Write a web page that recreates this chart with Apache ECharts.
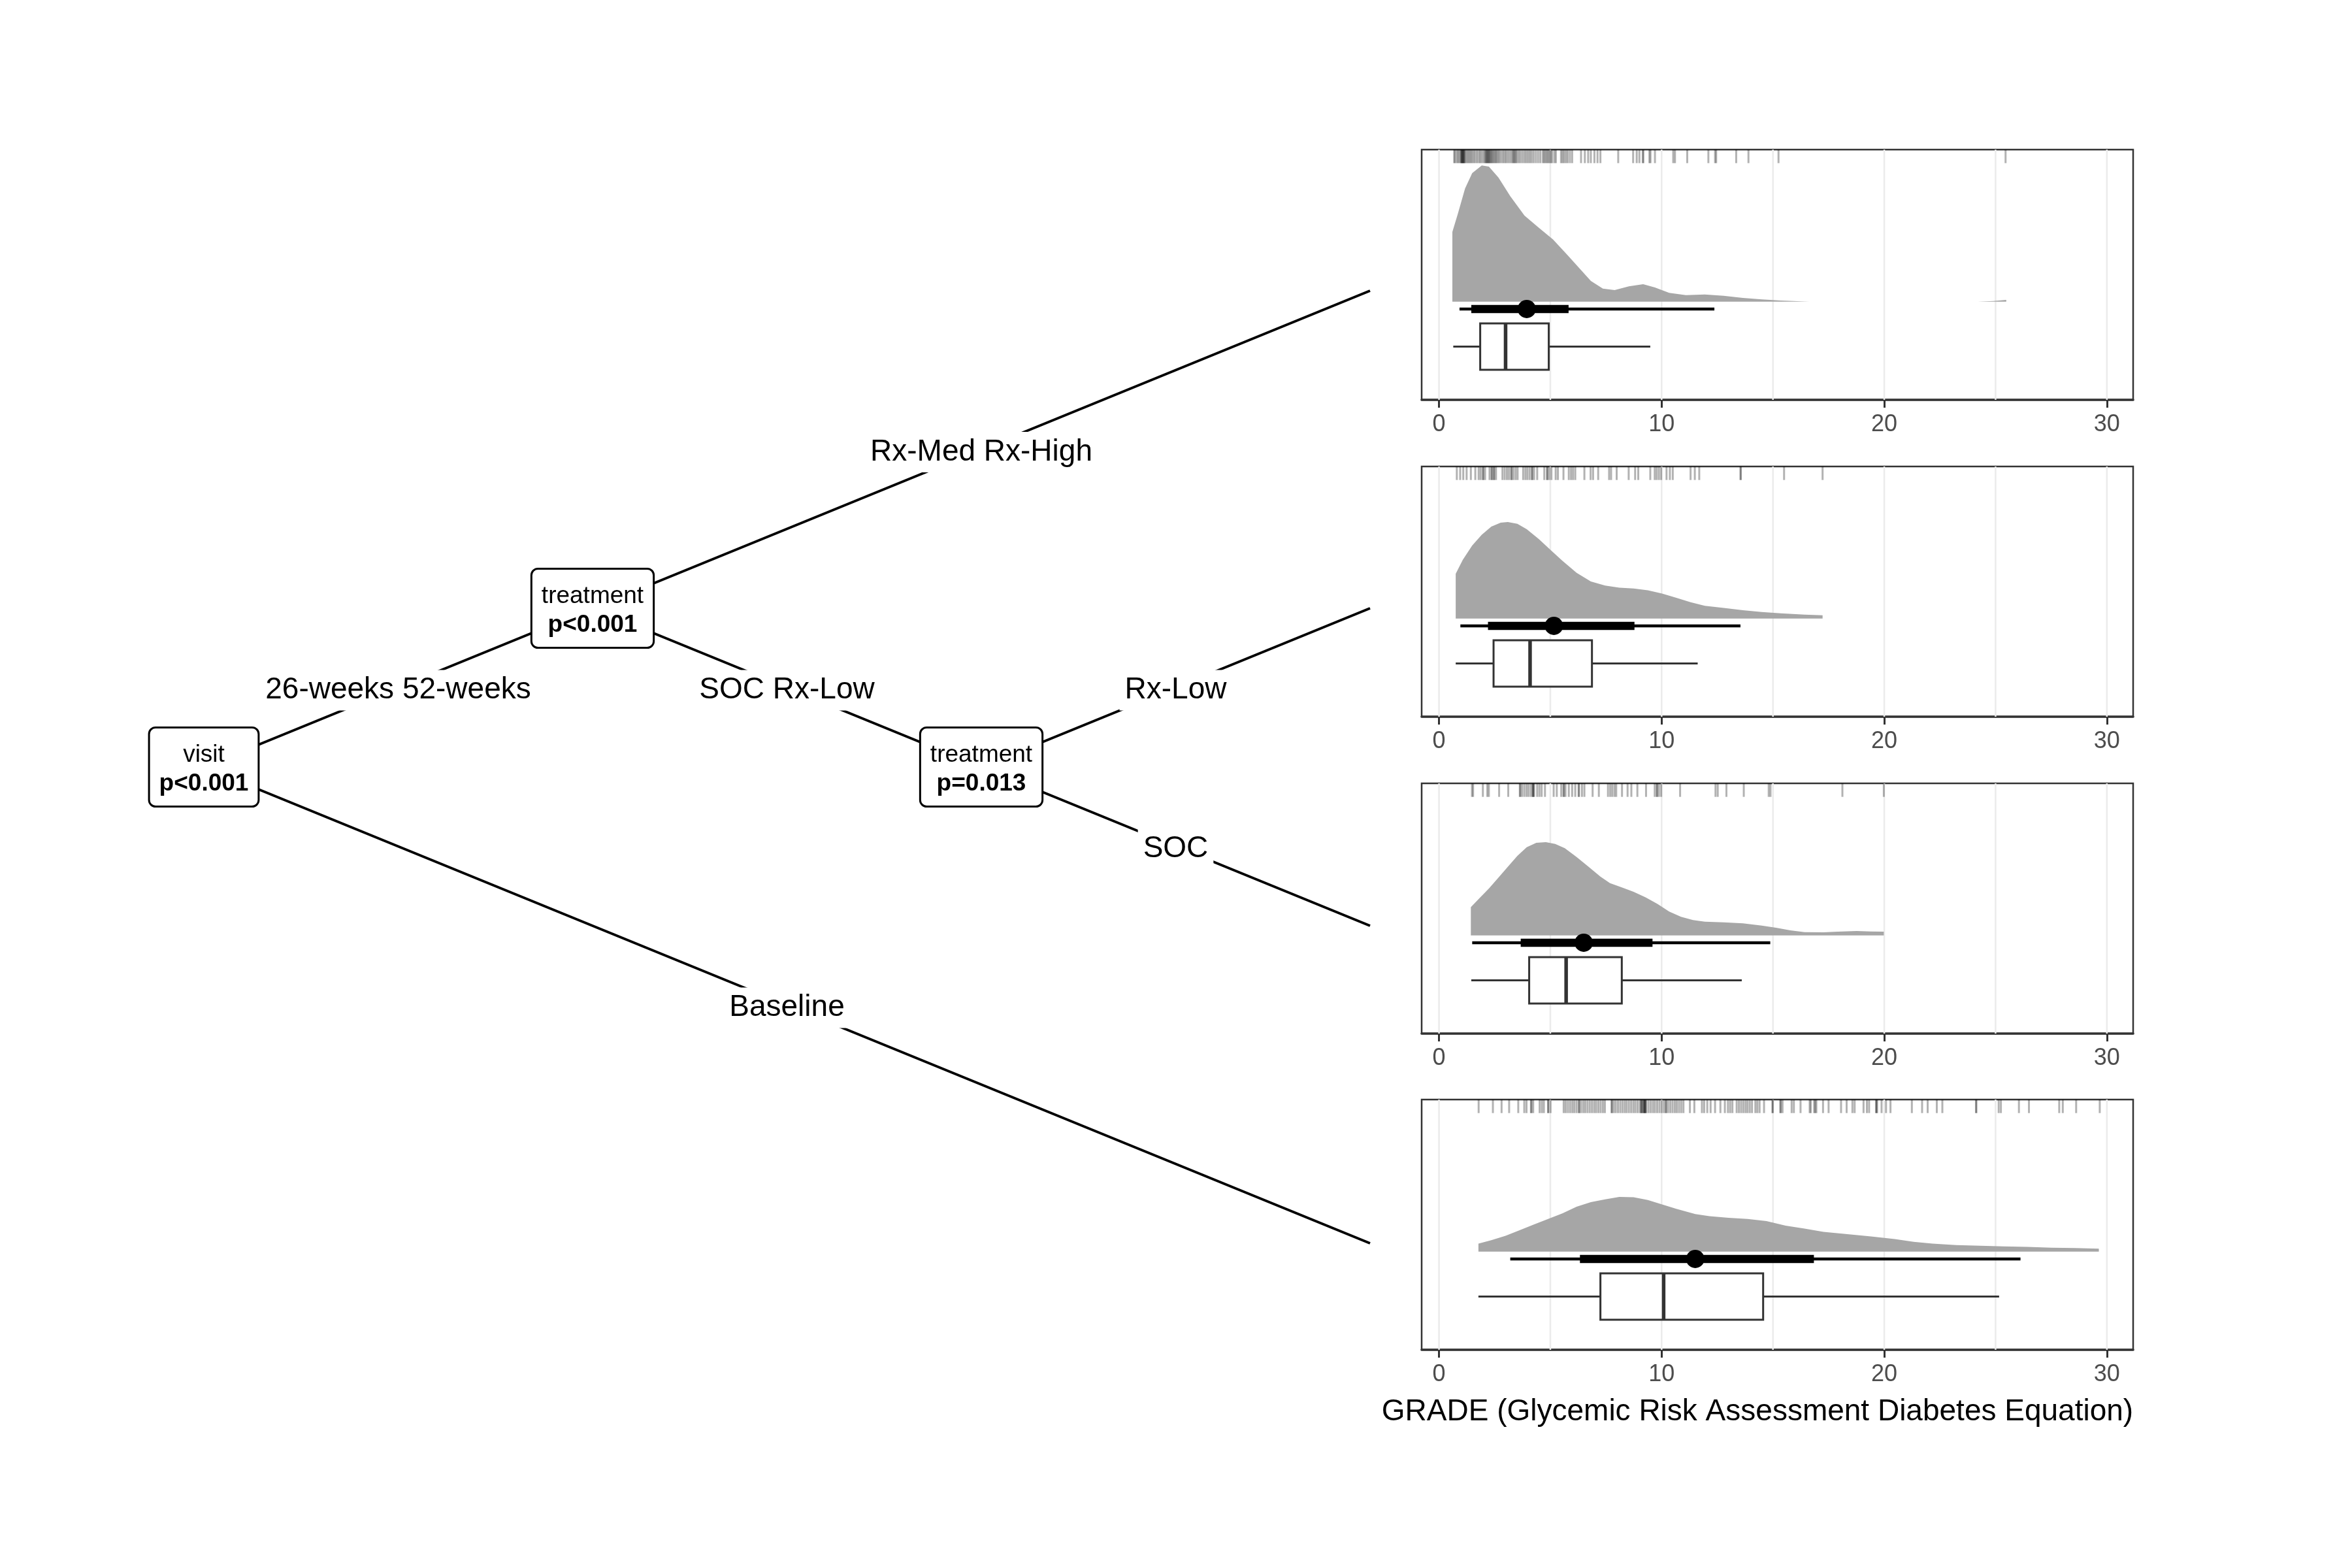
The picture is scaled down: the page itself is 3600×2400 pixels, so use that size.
<!DOCTYPE html>
<html>
<head>
<meta charset="utf-8">
<script src="https://cdn.jsdelivr.net/npm/echarts@6/dist/echarts.min.js"></script>
<style>
html,body{margin:0;padding:0;background:#ffffff;}
#chart{width:3600px;height:2400px;}
</style>
</head>
<body>
<div id="chart"></div>
<script>
// ================= DATA =================
// --- tree structure (partykit-style conditional inference tree) ---
const nodeIds = [1, 2, 4];
const nodeVariables = ['visit', 'treatment', 'treatment'];
const nodePValues = ['p<0.001', 'p<0.001', 'p=0.013'];
const edgeFrom = [1, 2, 2, 4, 4, 1];
const edgeTo = [2, 3, 4, 5, 6, 7];
const edgeLabels = ['26-weeks 52-weeks', 'Rx-Med Rx-High', 'SOC Rx-Low', 'Rx-Low', 'SOC', 'Baseline'];
const leafIds = [3, 5, 6, 7];

// --- terminal panels: GRADE axis ---
const axisTicks = [0, 10, 20, 30];
const gridBreaks = [0, 5, 10, 15, 20, 25, 30];
const axisTitle = 'GRADE (Glycemic Risk Assessment Diabetes Equation)';

// rug (individual observations) per terminal node
const rug3 = [0.68,0.72,0.80,0.86,0.92,0.98,1.00,1.02,1.04,1.06,1.08,1.10,1.12,1.14,1.18,1.24,1.30,1.36,1.42,1.48,1.55,1.62,1.70,1.78,1.85,1.92,2.00,2.06,2.10,2.13,2.16,2.19,2.22,2.25,2.28,2.32,2.36,2.40,2.45,2.50,2.55,2.60,2.66,2.72,2.80,2.88,2.95,3.02,3.10,3.18,3.26,3.32,3.36,3.40,3.45,3.50,3.58,3.66,3.75,3.84,3.92,4.00,4.08,4.16,4.25,4.35,4.45,4.55,4.66,4.72,4.78,4.84,4.90,4.96,5.02,5.08,5.18,5.25,5.48,5.55,5.62,5.70,5.78,5.88,5.98,6.38,6.55,6.70,6.82,6.98,7.12,7.25,8.05,8.72,8.88,9.00,9.15,9.18,9.45,9.50,9.70,10.52,10.60,11.15,12.10,12.40,12.45,13.35,13.90,15.25,25.45];
const rug5 = [0.80,0.95,1.09,1.24,1.43,1.63,1.78,1.87,1.97,1.99,2.07,2.27,2.36,2.38,2.46,2.48,2.56,2.85,2.95,3.05,3.14,3.24,3.26,3.34,3.44,3.53,3.78,3.88,3.97,4.07,4.17,4.19,4.27,4.41,4.73,4.85,4.87,4.95,5.05,5.24,5.34,5.59,5.83,5.93,6.02,6.12,6.53,6.81,6.92,7.15,7.64,7.73,7.98,8.52,8.81,8.95,9.49,9.69,9.78,9.88,9.98,10.22,10.37,10.50,11.30,11.49,11.69,13.54,13.56,15.50,17.23];
const rug6 = [1.48,1.53,1.97,2.17,2.24,2.70,3.11,3.63,3.65,3.73,3.83,3.93,4.02,4.12,4.20,4.22,4.24,4.27,4.41,4.51,4.61,4.76,5.15,5.29,5.49,5.59,5.61,5.68,5.83,5.98,6.12,6.27,6.29,6.42,6.53,6.90,7.18,7.59,7.69,7.78,7.88,7.96,8.22,8.47,8.64,8.91,9.30,9.69,9.78,9.80,9.88,9.98,10.83,12.42,12.52,12.91,13.69,14.81,14.89,18.12,19.98];
const rug7 = [1.78,2.42,2.81,3.15,3.56,3.83,3.93,4.13,4.15,4.23,4.52,4.62,4.71,4.90,4.91,5.01,5.60,5.69,5.79,5.89,5.99,6.08,6.18,6.28,6.30,6.38,6.48,6.57,6.67,6.77,6.87,6.97,7.06,7.16,7.26,7.36,7.45,7.75,7.77,7.85,7.94,8.04,8.14,8.24,8.34,8.43,8.53,8.63,8.73,8.82,8.92,9.02,9.07,9.10,9.12,9.17,9.20,9.22,9.24,9.26,9.28,9.31,9.41,9.51,9.61,9.70,9.80,9.90,10.00,10.10,10.19,10.20,10.29,10.39,10.49,10.59,10.68,10.78,10.88,10.98,11.27,11.47,11.81,11.91,12.05,12.20,12.40,12.64,12.84,12.98,13.08,13.18,13.37,13.47,13.57,13.67,13.77,13.86,13.96,14.06,14.21,14.30,14.40,14.60,14.98,14.99,15.33,15.35,15.43,15.84,15.94,16.24,16.65,16.70,16.85,16.90,16.95,17.25,17.50,18.06,18.31,18.57,18.67,19.07,19.22,19.32,19.63,19.65,19.68,19.88,20.08,20.28,21.24,21.70,21.95,22.36,22.61,24.12,24.14,25.14,25.24,26.05,26.50,27.86,28.02,28.62,29.68];

// density slabs [GRADE, relative density]
const density3 = [[0.60,0.510],[0.85,0.646],[1.17,0.829],[1.49,0.941],[1.92,0.997],[2.24,0.989],[2.67,0.909],[3.20,0.773],[3.84,0.630],[4.48,0.542],[5.12,0.455],[5.76,0.343],[6.29,0.247],[6.82,0.152],[7.36,0.096],[7.89,0.085],[8.53,0.112],[9.17,0.128],[9.70,0.104],[10.34,0.064],[11.09,0.048],[11.94,0.053],[12.79,0.043],[13.65,0.027],[14.50,0.016],[15.35,0.008],[16.63,0.0],[24.20,0.0],[24.90,0.005],[25.48,0.013]];
const density5 = [[0.75,0.327],[1.07,0.431],[1.49,0.534],[1.92,0.614],[2.35,0.673],[2.77,0.702],[3.09,0.707],[3.52,0.694],[3.94,0.654],[4.48,0.582],[5.01,0.502],[5.54,0.423],[6.18,0.335],[6.82,0.271],[7.46,0.242],[8.10,0.226],[8.74,0.220],[9.38,0.207],[10.02,0.183],[10.66,0.152],[11.30,0.120],[11.94,0.093],[12.79,0.077],[13.65,0.061],[14.50,0.048],[15.35,0.038],[16.42,0.029],[17.23,0.024]];
const density6 = [[1.43,0.207],[1.81,0.271],[2.24,0.343],[2.67,0.423],[3.09,0.502],[3.52,0.582],[3.94,0.646],[4.37,0.678],[4.80,0.683],[5.22,0.670],[5.65,0.638],[6.18,0.574],[6.72,0.502],[7.25,0.431],[7.68,0.383],[8.21,0.351],[8.74,0.319],[9.28,0.279],[9.81,0.231],[10.34,0.175],[10.87,0.136],[11.41,0.112],[11.94,0.100],[12.79,0.096],[13.65,0.088],[14.50,0.072],[15.14,0.056],[15.78,0.037],[16.42,0.024],[17.27,0.022],[17.91,0.027],[18.76,0.032],[19.40,0.029],[19.98,0.027]];
const density7 = [[1.77,0.059],[2.35,0.084],[2.99,0.116],[3.62,0.157],[4.26,0.198],[4.90,0.239],[5.54,0.280],[6.18,0.329],[6.82,0.362],[7.46,0.383],[8.10,0.400],[8.74,0.398],[9.38,0.378],[10.02,0.346],[10.66,0.313],[11.51,0.275],[12.15,0.259],[13.01,0.247],[13.86,0.239],[14.71,0.223],[15.57,0.190],[16.42,0.169],[17.27,0.144],[18.34,0.128],[19.40,0.111],[20.47,0.092],[21.32,0.072],[22.17,0.059],[23.24,0.048],[24.31,0.043],[25.37,0.038],[26.44,0.034],[27.51,0.029],[28.57,0.026],[29.64,0.021]];

// point + interval (point estimate, 66% and 95% intervals), in leaf order
const pointEst = [3.94, 5.16, 6.50, 11.51];
const int66Low = [1.45, 2.20, 3.67, 6.33];
const int66High = [5.82, 8.78, 9.59, 16.84];
const int95Low = [0.92, 0.96, 1.49, 3.20];
const int95High = [12.37, 13.54, 14.88, 26.12];

// boxplot statistics, in leaf order
const boxLower = [0.64, 0.75, 1.45, 1.77];
const boxQ1 = [1.85, 2.45, 4.05, 7.25];
const boxMedian = [2.99, 4.09, 5.71, 10.09];
const boxQ3 = [4.93, 6.87, 8.21, 14.56];
const boxUpper = [9.49, 11.62, 13.60, 25.16];

// ================= LAYOUT / STYLE =================
const FONT = '"Liberation Sans", Arial, Helvetica, sans-serif';
const panelTops = [229, 714, 1199, 1683];
const PANEL_LEFT = 2176, PANEL_W = 1089, PANEL_H = 383;
const RUG_Y0 = 0.946, RUG_Y1 = 1.0;
const SLAB_BASE = 0.3924, SLAB_SCALE = 0.5457;
const INTERVAL_Y = 0.363;
const BOX_Y = 0.2128, BOX_HALF = 0.0927;

const rugs = [rug3, rug5, rug6, rug7];
const densities = [density3, density5, density6, density7];

// ---- tree layout from structure ----
const children = {};
edgeFrom.forEach((f, i) => { (children[f] = children[f] || []).push(edgeTo[i]); });
const depth = {1: 1};
const queue = [1];
for (let i = 0; i < queue.length; i++) {
  const n = queue[i];
  (children[n] || []).forEach(c => { depth[c] = depth[n] + 1; queue.push(c); });
}
const maxInnerDepth = Math.max(...nodeIds.map(n => depth[n]));
const pos = {};
leafIds.forEach((id, i) => { pos[id] = {x: maxInnerDepth + 1, y: i + 1}; });
function leavesOf(n) { return children[n] ? children[n].flatMap(leavesOf) : [n]; }
nodeIds.forEach(n => {
  const ls = leavesOf(n);
  pos[n] = {x: depth[n], y: ls.reduce((s, l) => s + pos[l].y, 0) / ls.length};
});

const mctx = document.createElement('canvas').getContext('2d');
function textWidth(t, font) { mctx.font = font; return mctx.measureText(t).width; }

// ================= CHART =================
const chart = echarts.init(document.getElementById('chart'), null, {renderer: 'canvas', width: 3600, height: 2400});

const grids = [{left: 312, top: 445, width: 1785, height: 1458, show: false, outerBoundsMode: 'none'}];
const xAxes = [{gridIndex: 0, type: 'value', min: 1, max: maxInnerDepth + 1, show: false}];
const yAxes = [{gridIndex: 0, type: 'value', min: 1, max: leafIds.length, inverse: true, show: false}];
panelTops.forEach((t, k) => {
  grids.push({left: PANEL_LEFT, top: t, width: PANEL_W, height: PANEL_H, show: true,
    borderColor: '#333333', borderWidth: 2.5, backgroundColor: 'transparent', outerBoundsMode: 'none'});
  xAxes.push({
    gridIndex: k + 1, type: 'value', min: -0.78, max: 31.18,
    axisLine: {show: true, onZero: false, lineStyle: {color: '#333333', width: 3.5}},
    axisTick: {show: true, customValues: axisTicks, length: 12, lineStyle: {color: '#333333', width: 3}},
    axisLabel: {show: true, customValues: axisTicks, margin: 20, color: '#4D4D4D', fontSize: 36, fontFamily: FONT},
    splitLine: {show: false}, minorSplitLine: {show: false}
  });
  yAxes.push({gridIndex: k + 1, type: 'value', min: 0, max: 1, show: false});
});

const series = [];

// tree edges
series.push({
  type: 'custom', xAxisIndex: 0, yAxisIndex: 0, z: 1, clip: false, silent: true,
  data: edgeFrom.map((f, i) => [pos[f].x, pos[f].y, pos[edgeTo[i]].x, pos[edgeTo[i]].y]),
  renderItem: (params, api) => {
    const a = api.coord([api.value(0), api.value(1)]);
    const b = api.coord([api.value(2), api.value(3)]);
    return {type: 'line', shape: {x1: a[0], y1: a[1], x2: b[0], y2: b[1]},
      style: {stroke: '#000000', lineWidth: 4}};
  }
});
// edge labels
series.push({
  type: 'custom', xAxisIndex: 0, yAxisIndex: 0, z: 2, clip: false, silent: true,
  data: edgeFrom.map((f, i) => [(pos[f].x + pos[edgeTo[i]].x) / 2, (pos[f].y + pos[edgeTo[i]].y) / 2]),
  renderItem: (params, api) => {
    const p = api.coord([api.value(0), api.value(1)]);
    return {type: 'text', x: p[0], y: p[1] + 4, style: {
      text: edgeLabels[params.dataIndex], fontSize: 46, fontFamily: FONT, fill: '#000000',
      align: 'center', verticalAlign: 'middle', backgroundColor: '#ffffff', padding: [8, 8]}};
  }
});
// inner nodes
series.push({
  type: 'custom', xAxisIndex: 0, yAxisIndex: 0, z: 3, clip: false, silent: true,
  data: nodeIds.map(n => [pos[n].x, pos[n].y]),
  renderItem: (params, api) => {
    const i = params.dataIndex;
    const p = api.coord([api.value(0), api.value(1)]);
    const w = Math.max(textWidth(nodeVariables[i], '37px ' + FONT), textWidth(nodePValues[i], 'bold 37px ' + FONT)) + 31;
    const h = 121;
    return {type: 'group', children: [
      {type: 'rect', shape: {x: p[0] - w / 2, y: p[1] - h / 2, width: w, height: h, r: 10},
        style: {fill: '#ffffff', stroke: '#000000', lineWidth: 3}},
      {type: 'text', x: p[0], y: p[1] - 18, style: {text: nodeVariables[i], fontSize: 37, fontFamily: FONT,
        fill: '#000000', align: 'center', verticalAlign: 'middle'}},
      {type: 'text', x: p[0], y: p[1] + 26, style: {text: nodePValues[i], fontSize: 37, fontWeight: 'bold', fontFamily: FONT,
        fill: '#000000', align: 'center', verticalAlign: 'middle'}}
    ]};
  }
});

// terminal panels
for (let k = 0; k < 4; k++) {
  const ax = {xAxisIndex: k + 1, yAxisIndex: k + 1};
  // vertical grid lines
  series.push(Object.assign({
    type: 'custom', z: 1, clip: false, silent: true,
    data: gridBreaks.map(v => [v, 0]),
    renderItem: (params, api) => {
      const a = api.coord([api.value(0), 0]);
      const b = api.coord([api.value(0), 1]);
      return {type: 'line', shape: {x1: a[0], y1: a[1], x2: b[0], y2: b[1]},
        style: {stroke: '#EBEBEB', lineWidth: 2.5}};
    }
  }, ax));
  // density slab
  series.push(Object.assign({
    type: 'custom', z: 2, clip: false, silent: true,
    data: densities[k],
    renderItem: (params, api) => {
      if (params.dataIndex !== 0) return null;
      const d = densities[k];
      const pts = [api.coord([d[0][0], SLAB_BASE])];
      d.forEach(([x, v]) => pts.push(api.coord([x, SLAB_BASE + v * SLAB_SCALE])));
      pts.push(api.coord([d[d.length - 1][0], SLAB_BASE]));
      return {type: 'polygon', shape: {points: pts}, style: {fill: '#A6A6A6'}};
    }
  }, ax));
  // point + interval
  series.push(Object.assign({
    type: 'custom', z: 3, clip: false, silent: true,
    data: [[pointEst[k], int66Low[k], int66High[k], int95Low[k], int95High[k]]],
    renderItem: (params, api) => {
      const p = api.coord([api.value(0), INTERVAL_Y]);
      const a66 = api.coord([api.value(1), INTERVAL_Y]), b66 = api.coord([api.value(2), INTERVAL_Y]);
      const a95 = api.coord([api.value(3), INTERVAL_Y]), b95 = api.coord([api.value(4), INTERVAL_Y]);
      return {type: 'group', children: [
        {type: 'line', shape: {x1: a95[0], y1: a95[1], x2: b95[0], y2: b95[1]}, style: {stroke: '#000000', lineWidth: 4.5}},
        {type: 'line', shape: {x1: a66[0], y1: a66[1], x2: b66[0], y2: b66[1]}, style: {stroke: '#000000', lineWidth: 12.5}},
        {type: 'circle', shape: {cx: p[0], cy: p[1], r: 14}, style: {fill: '#000000'}}
      ]};
    }
  }, ax));
  // boxplot
  series.push(Object.assign({
    type: 'custom', z: 3, clip: false, silent: true,
    data: [[boxLower[k], boxQ1[k], boxMedian[k], boxQ3[k], boxUpper[k]]],
    renderItem: (params, api) => {
      const lo = api.coord([api.value(0), BOX_Y]);
      const q1 = api.coord([api.value(1), BOX_Y + BOX_HALF]);
      const md = api.coord([api.value(2), BOX_Y + BOX_HALF]);
      const mdb = api.coord([api.value(2), BOX_Y - BOX_HALF]);
      const q3 = api.coord([api.value(3), BOX_Y - BOX_HALF]);
      const hi = api.coord([api.value(4), BOX_Y]);
      const q1c = api.coord([api.value(1), BOX_Y]);
      const q3c = api.coord([api.value(3), BOX_Y]);
      const st = {stroke: '#333333', lineWidth: 3};
      return {type: 'group', children: [
        {type: 'line', shape: {x1: lo[0], y1: lo[1], x2: q1c[0], y2: q1c[1]}, style: st},
        {type: 'line', shape: {x1: q3c[0], y1: q3c[1], x2: hi[0], y2: hi[1]}, style: st},
        {type: 'rect', shape: {x: q1[0], y: q1[1], width: q3[0] - q1[0], height: q3[1] - q1[1]},
          style: {fill: '#ffffff', stroke: '#333333', lineWidth: 3}},
        {type: 'line', shape: {x1: md[0], y1: md[1], x2: mdb[0], y2: mdb[1]}, style: {stroke: '#333333', lineWidth: 5.5}}
      ]};
    }
  }, ax));
  // rug
  series.push(Object.assign({
    type: 'custom', z: 4, clip: false, silent: true,
    data: rugs[k].map(v => [v, RUG_Y0]),
    renderItem: (params, api) => {
      const a = api.coord([api.value(0), RUG_Y0]);
      const b = api.coord([api.value(0), RUG_Y1]);
      return {type: 'line', shape: {x1: a[0], y1: a[1], x2: b[0], y2: b[1]},
        style: {stroke: 'rgba(0,0,0,0.3)', lineWidth: 3}};
    }
  }, ax));
}

chart.setOption({
  backgroundColor: '#ffffff',
  animation: false,
  grid: grids,
  xAxis: xAxes,
  yAxis: yAxes,
  series: series,
  graphic: [{
    type: 'text', x: 2690, y: 2161, silent: true,
    style: {text: axisTitle, fontSize: 46, fontFamily: FONT, fill: '#000000', align: 'center', verticalAlign: 'middle'}
  }]
});
</script>
</body>
</html>
